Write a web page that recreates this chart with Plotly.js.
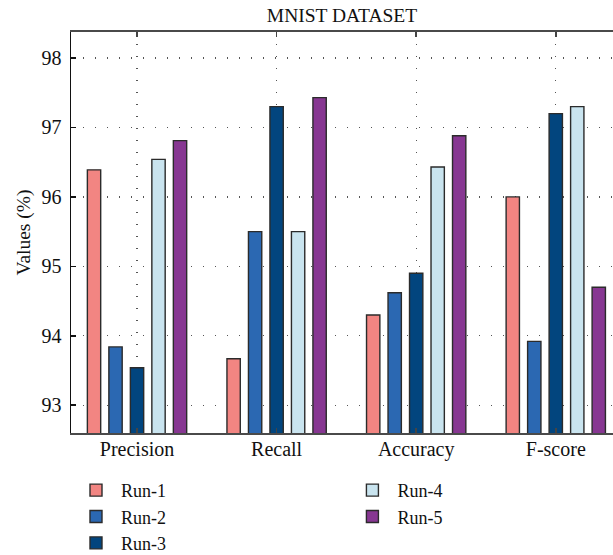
<!DOCTYPE html>
<html>
<head>
<meta charset="utf-8">
<script src="https://cdn.plot.ly/plotly-3.0.1.min.js"></script>
<style>html,body{margin:0;padding:0;background:#fff;}#chart{width:613px;height:555px;}</style>
</head>
<body>
<div id="chart"></div>
<script>
const categories = ["Precision", "Recall", "Accuracy", "F-score"];
const run1 = [96.39, 93.67, 94.30, 96.00];
const run2 = [93.84, 95.50, 94.62, 93.92];
const run3 = [93.54, 97.30, 94.90, 97.20];
const run4 = [96.54, 95.50, 96.43, 97.30];
const run5 = [96.81, 97.43, 96.88, 94.70];
const seriesNames = ["Run-1", "Run-2", "Run-3", "Run-4", "Run-5"];
const seriesValues = [run1, run2, run3, run4, run5];
const colors = ["#F28582", "#2B68B2", "#02457E", "#C9E4EF", "#873792"];
const legendFor = ["legend", "legend", "legend", "legend2", "legend2"];

const FONT = "Liberation Serif, Times New Roman, serif";

const traces = seriesNames.map((name, i) => ({
  type: "bar",
  name: name,
  x: categories,
  y: seriesValues[i],
  base: 0,
  legend: legendFor[i],
  marker: { color: colors[i], line: { color: "#2b2b2b", width: 1.4 } },
  hoverinfo: "x+y+name"
}));

const layout = {
  width: 613,
  height: 555,
  margin: { l: 71, r: 0, t: 32, b: 122, autoexpand: false },
  paper_bgcolor: "#ffffff",
  plot_bgcolor: "#ffffff",
  font: { family: FONT, size: 20, color: "#111" },
  title: { text: "MNIST DATASET", font: { family: FONT, size: 19.5, color: "#111" }, x: 0.5, xanchor: "center", y: 0.972, yanchor: "middle", xref: "paper" },
  barmode: "group",
  bargap: 0.23,
  bargroupgap: 0.38,
  xaxis: {
    type: "category",
    range: [-0.473, 3.41],
    showline: true, linecolor: "#4a4a4a", linewidth: 1.8, mirror: "ticks",
    ticks: "inside", ticklen: 5, tickcolor: "#444", tickwidth: 1.5,
    showgrid: true, gridcolor: "#555", gridwidth: 1.2, griddash: "1px,11px",
    tickfont: { family: FONT, size: 20, color: "#111" },
    ticklabelstandoff: -3,
    automargin: false,
    zeroline: false
  },
  yaxis: {
    range: [92.6, 98.375],
    tickvals: [93, 94, 95, 96, 97, 98],
    showline: true, linecolor: "#111", linewidth: 1.5, mirror: false,
    ticks: "inside", ticklen: 5, tickcolor: "#111", tickwidth: 1.5,
    showgrid: true, gridcolor: "#555", gridwidth: 1.2, griddash: "1px,11px",
    tickfont: { family: FONT, size: 20, color: "#111" },
    ticklabelstandoff: 4,
    automargin: false,
    title: { text: "Values (%)", font: { family: FONT, size: 19.5, color: "#111" }, standoff: 5 },
    zeroline: false
  },
  showlegend: true,
  legend: {
    x: 0.0, xanchor: "left", y: -0.097, yanchor: "top",
    orientation: "v", traceorder: "normal",
    font: { family: FONT, size: 18, color: "#111" },
    bgcolor: "rgba(0,0,0,0)", itemwidth: 40
  },
  legend2: {
    x: 0.51, xanchor: "left", y: -0.097, yanchor: "top",
    orientation: "v", traceorder: "normal",
    font: { family: FONT, size: 18, color: "#111" },
    bgcolor: "rgba(0,0,0,0)", itemwidth: 40
  }
};

Plotly.newPlot("chart", traces, layout, { displayModeBar: false, staticPlot: true });
</script>
</body>
</html>
